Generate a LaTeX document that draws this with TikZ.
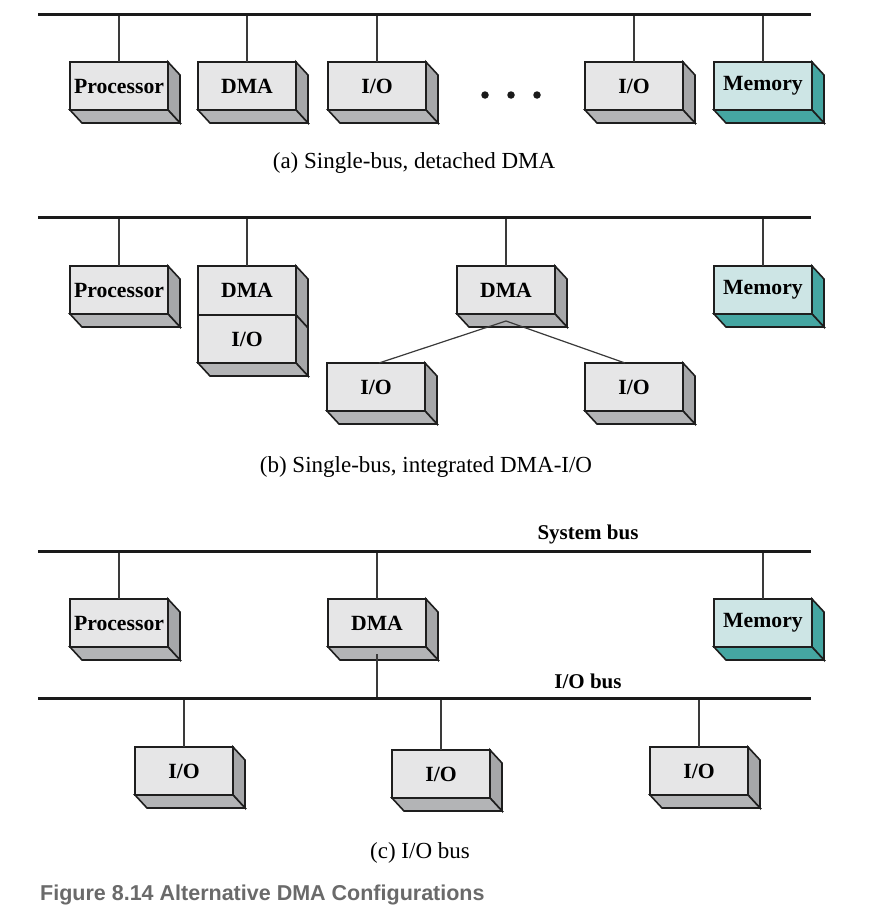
\documentclass[tikz,border=0pt]{standalone}
\usepackage{fontspec}
\setmainfont{Liberation Serif}
\newfontfamily\capsans{Liberation Sans}
\usetikzlibrary{calc}

\definecolor{edge}{HTML}{1E1E1E}
\definecolor{busblack}{HTML}{1A1A1A}
\definecolor{linkgrey}{HTML}{3A3A3A}
\definecolor{facegrey}{HTML}{E6E6E7}
\definecolor{sidegrey}{HTML}{A6A7A9}
\definecolor{bottomgrey}{HTML}{B3B4B6}
\definecolor{memfront}{HTML}{CDE5E5}
\definecolor{memside}{HTML}{45A6A2}
\definecolor{capgrey}{HTML}{6A6A6A}

\tikzset{
  box/.style={draw=edge, line width=1.6pt, fill=facegrey,
    minimum width=98pt, minimum height=48pt, inner sep=0pt, outer sep=0pt,
    anchor=north west, font=\bfseries\fontsize{21.7pt}{25pt}\selectfont},
  membox/.style={box, fill=memfront},
  face/.style={draw=edge, line width=1.6pt},
  bus/.style={draw=busblack, line width=3pt},
  link/.style={draw=linkgrey, line width=1.2pt},
  caption/.style={font=\fontsize{23pt}{27pt}\selectfont},
  buslabel/.style={font=\bfseries\fontsize{21pt}{24pt}\selectfont},
  dot/.style={circle, fill=busblack, inner sep=0pt, minimum size=7.5pt},
}

% side and bottom faces of a solid box whose front face is node #1
\newcommand\sideface[2]{%
  \filldraw[face, fill=#2] (#1.north east) -- ++(12,13)
    -- ($(#1.south east)+(12,13)$) -- (#1.south east) -- cycle;}
\newcommand\bottomface[2]{%
  \filldraw[face, fill=#2] (#1.south west) -- ++(12,13)
    -- ($(#1.south east)+(12,13)$) -- (#1.south east) -- cycle;}
\newcommand\boxfaces[3]{\sideface{#1}{#2}\bottomface{#1}{#3}}

\begin{document}
\begin{tikzpicture}[x=1pt, y=-1pt]
\useasboundingbox[fill=white] (0,0) rectangle (870,913);

% ---------- (a) single bus, detached DMA ----------
\coordinate (busA) at (38,14);
\coordinate (busAend) at (811,14);
\node[box] (procA) at (70,62) {Processor};
\node[box] (dmaA) at (198,62) {DMA};
\node[box] (ioA1) at (328,62) {I/O};
\node[box] (ioA2) at (585,62) {I/O};
\node[membox] (memA) at (714,62) {Memory};
\foreach \n in {procA,dmaA,ioA1,ioA2} {\boxfaces{\n}{sidegrey}{bottomgrey}}
\boxfaces{memA}{memside}{memside}
\foreach \n in {procA,dmaA,ioA1,ioA2,memA} {\draw[link] (\n.north) -- (\n.north |- busA);}
\draw[bus] (busA) -- (busAend);
\node[dot] (dotA1) at (485,95) {};
\node[dot] (dotA2) at (511,95) {};
\node[dot] (dotA3) at (537,95) {};
\node[caption] (capA) at (414,163) {(a) Single-bus, detached DMA};

% ---------- (b) single bus, integrated DMA-I/O ----------
\coordinate (busB) at (38,217);
\coordinate (busBend) at (811,217);
\node[box] (procB) at (70,266) {Processor};
\node[box, minimum height=49pt] (dmaB0) at (198,266) {DMA};
\sideface{dmaB0}{sidegrey}
\node[box] (ioB0) at (198,315) {I/O};
\node[box] (dmaB) at (457,266) {DMA};
\node[box] (ioB1) at (327,363) {I/O};
\node[box] (ioB2) at (585,363) {I/O};
\node[membox] (memB) at (714,266) {Memory};
\foreach \n in {procB,ioB0,dmaB,ioB1,ioB2} {\boxfaces{\n}{sidegrey}{bottomgrey}}
\boxfaces{memB}{memside}{memside}
\foreach \n in {procB,dmaB0,dmaB,memB} {\draw[link] (\n.north) -- (\n.north |- busB);}
\draw[bus] (busB) -- (busBend);
\coordinate (dmaBtap) at ($(dmaB.south)+(0,7)$);
\draw[link] ($(ioB1.north)+(3,0)$) -- (dmaBtap) -- ($(ioB2.north)+(-9,0)$);
\node[caption] (capB) at (426,467) {(b) Single-bus, integrated DMA-I/O};

% ---------- (c) separate I/O bus ----------
\coordinate (busC) at (38,551);
\coordinate (busCend) at (811,551);
\coordinate (busD) at (38,698);
\coordinate (busDend) at (811,698);
\node[buslabel] (sysbus) at (588,534) {System bus};
\node[buslabel] (iobus) at (588,681) {I/O bus};
\node[box] (procC) at (70,599) {Processor};
\node[box] (dmaC) at (328,599) {DMA};
\node[membox] (memC) at (714,599) {Memory};
\node[box] (ioC1) at (135,747) {I/O};
\node[box] (ioC2) at (392,750) {I/O};
\node[box] (ioC3) at (650,747) {I/O};
\foreach \n in {procC,dmaC,ioC1,ioC2,ioC3} {\boxfaces{\n}{sidegrey}{bottomgrey}}
\boxfaces{memC}{memside}{memside}
\foreach \n in {procC,dmaC,memC} {\draw[link] (\n.north) -- (\n.north |- busC);}
\foreach \n in {ioC1,ioC2,ioC3} {\draw[link] (\n.north) -- (\n.north |- busD);}
\coordinate (dmaCtap) at ($(dmaC.south)+(0,7)$);
\draw[link] (dmaCtap) -- (dmaCtap |- busD);
\draw[bus] (busC) -- (busCend);
\draw[bus] (busD) -- (busDend);
\node[caption] (capC) at (420,853) {(c) I/O bus};

% ---------- figure title ----------
\node[anchor=base west, inner sep=0pt, text=capgrey,
      font=\capsans\bfseries\fontsize{21.5pt}{25pt}\selectfont] (title) at (40,900)
      {Figure 8.14 Alternative DMA Configurations};
\end{tikzpicture}
\end{document}
